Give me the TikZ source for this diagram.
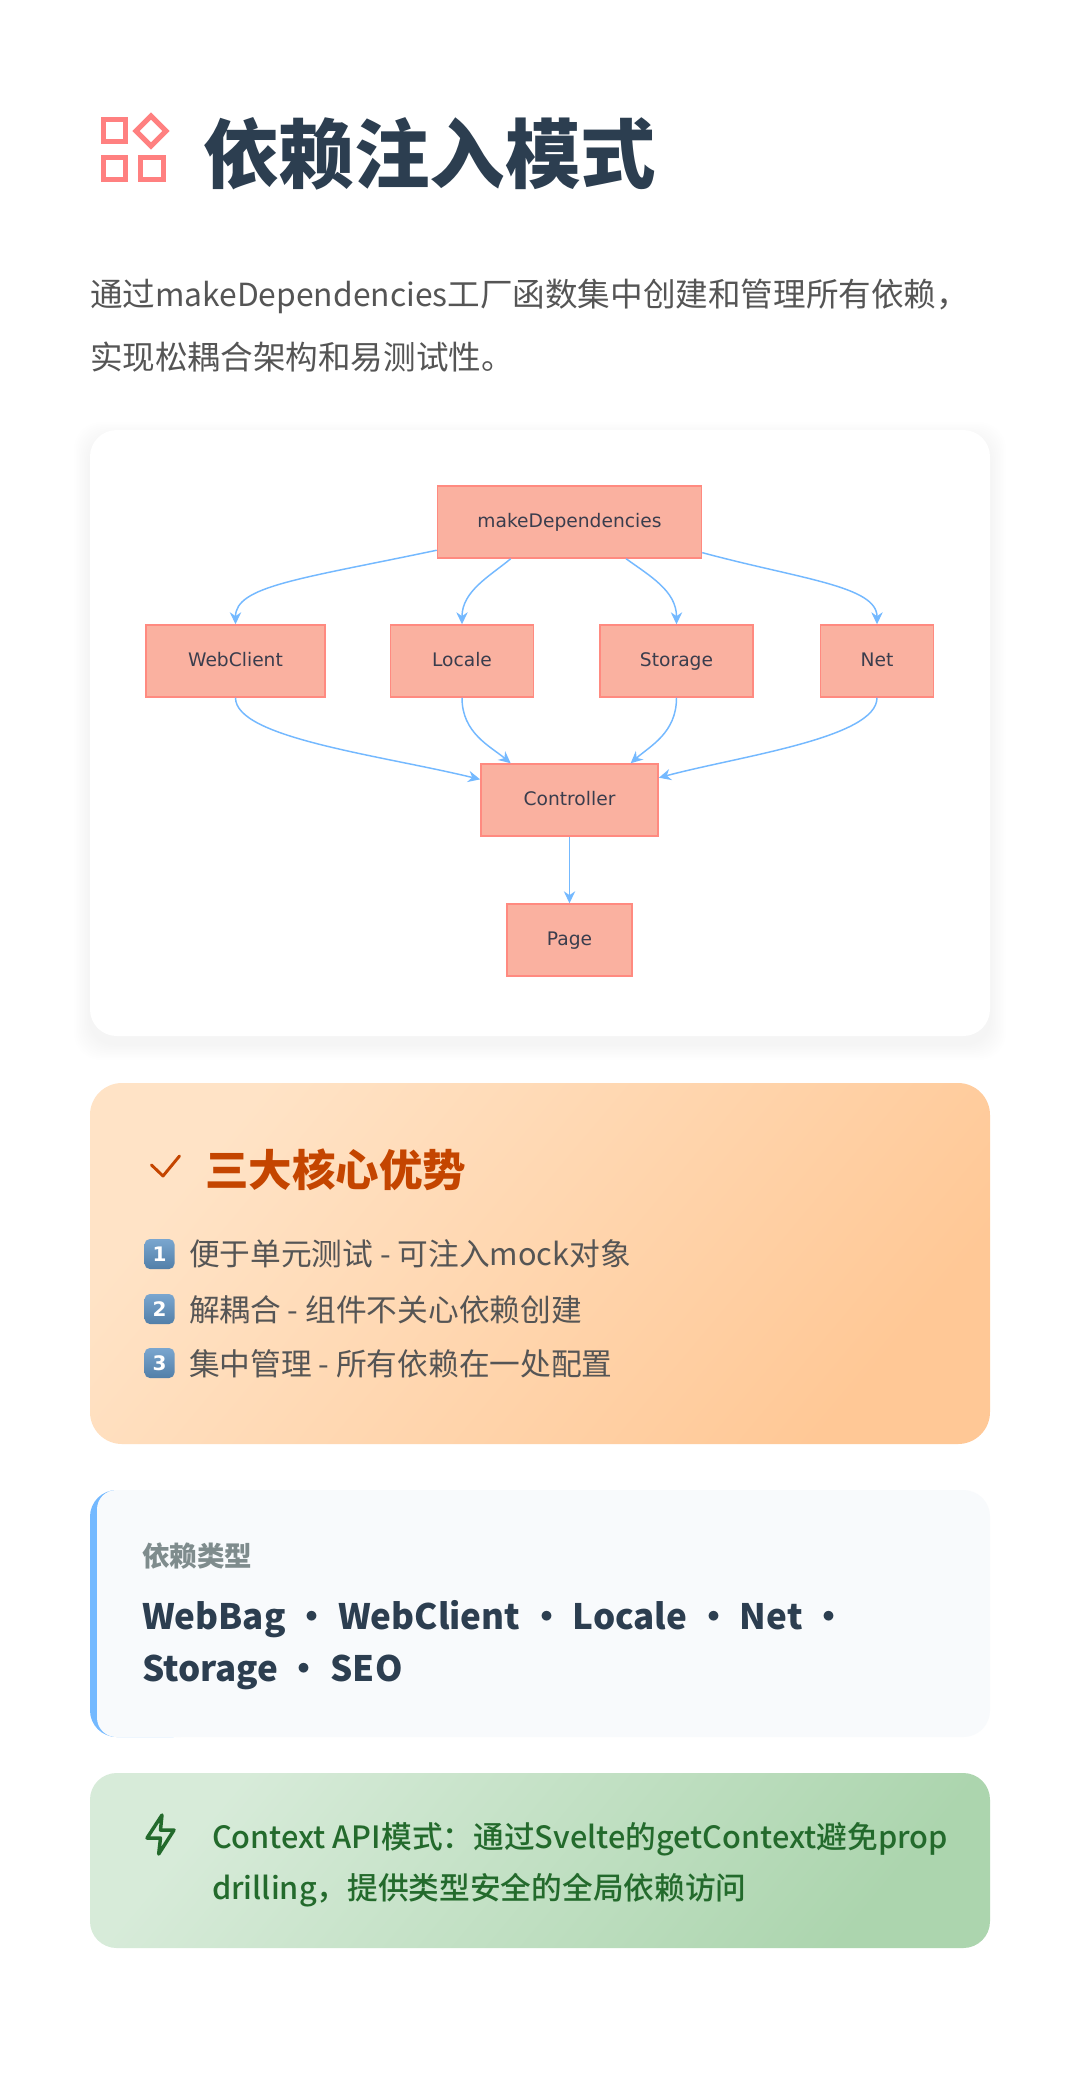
\documentclass[tikz,border=0pt]{standalone}
\usepackage{fontspec}
\usetikzlibrary{arrows.meta}
\setmainfont{Noto Sans CJK SC}
\newfontfamily\blackfont{Noto Sans CJK SC Black}
\newfontfamily\mediumfont{Noto Sans CJK SC Medium}
\newfontfamily\flowfont{DejaVu Sans}
\newcommand{\pxsize}[1]{\fontsize{\the\dimexpr#1pt*3/4\relax}{#1pt}\selectfont}
\newcommand{\kinddot}{\hspace{0.5pt}・\hspace{0.5pt}}
\definecolor{titleink}{HTML}{2C3E50}
\definecolor{bodyink}{HTML}{555555}
\definecolor{iconred}{HTML}{FF8080}
\definecolor{boxfill}{HTML}{FAB1A0}
\definecolor{boxline}{HTML}{FF8A80}
\definecolor{flowline}{HTML}{74B9FF}
\definecolor{flowink}{HTML}{3A3D4D}
\definecolor{orangeink}{HTML}{C44500}
\definecolor{greenink}{HTML}{236A2C}
\definecolor{softgrey}{HTML}{F8FAFC}
\definecolor{labelgrey}{HTML}{7F8C8D}
\definecolor{keytop}{HTML}{7AA6CF}
\definecolor{keybot}{HTML}{527FA8}
\definecolor{orangea}{HTML}{FFE3C6}
\definecolor{orangeb}{HTML}{FFC896}
\definecolor{greena}{HTML}{D7EBD9}
\definecolor{greenb}{HTML}{ACD5AE}
\tikzset{
  txt/.style={anchor=base west,inner sep=0pt,outer sep=0pt},
  flowbox/.style={draw=boxline,fill=boxfill,line width=1.1pt,minimum height=54pt,
    inner sep=0pt,text=flowink,text height=0.9em,text depth=0.12em,
    font=\flowfont\fontsize{14}{17}\selectfont},
  flowarrow/.style={draw=flowline,line width=1.1pt,-{Stealth[length=9pt,width=8.5pt]}},
  keycap/.style={rounded corners=4pt,top color=keytop,bottom color=keybot},
  keytext/.style={text=white,inner sep=0pt,font=\flowfont\bfseries\fontsize{15}{15}\selectfont},
}
\begin{document}
\begin{tikzpicture}[x=0.75pt,y=-0.75pt]
\useasboundingbox (0,0) rectangle (1080,2075);
\fill[white] (0,0) rectangle (1080,2075);

% heading
\draw[iconred,line width=3.8pt] (103.5,119.5) rectangle (125.5,141.5);
\draw[iconred,line width=3.8pt] (151,116) -- (166,131) -- (151,146) -- (136,131) -- cycle;
\draw[iconred,line width=3.8pt] (103.5,157.5) rectangle (125.5,179.5);
\draw[iconred,line width=3.8pt] (140.5,157.5) rectangle (163.5,179.5);
\node[txt,text=titleink,font=\blackfont\pxsize{75.5}] (heading) at (203,182) {依赖注入模式};
\node[txt,text=bodyink,font=\pxsize{32.6}] (introa) at (90,306) {通过{\pxsize{31.8}makeDependencies}工厂函数集中创建和管理所有依赖，};
\node[txt,text=bodyink,font=\pxsize{32.6}] (introb) at (90,369) {实现松耦合架构和易测试性。};

% white card
\foreach \g in {1,...,10}
  \fill[black,opacity=0.004,rounded corners=20pt] (90-\g*1.6,430+8-\g*1.6) rectangle (990+\g*1.6,1036+8+\g*1.6);
\fill[white,rounded corners=20pt] (90,430) rectangle (990,1036);

\node[flowbox,minimum width=198pt] (make) at (569.5,522) {makeDependencies};
\node[flowbox,minimum width=134pt] (web) at (235.5,661) {WebClient};
\node[flowbox,minimum width=107pt] (locale) at (462,661) {Locale};
\node[flowbox,minimum width=115pt] (storage) at (676.5,661) {Storage};
\node[flowbox,minimum width=85pt] (net) at (877,661) {Net};
\node[flowbox,minimum width=133pt] (ctrl) at (569.5,800) {Controller};
\node[flowbox,minimum width=94pt] (page) at (569.5,940) {Page};

\draw[flowarrow] (make.192) .. controls (300,579) and (235.5,586) .. (web.north);
\draw[flowarrow] (make.212) .. controls (490,576) and (462,591) .. (locale.north);
\draw[flowarrow] (make.327) .. controls (650,576) and (676.5,591) .. (storage.north);
\draw[flowarrow] (make.347) .. controls (800,579) and (877,586) .. (net.north);
\draw[flowarrow] (web.south) .. controls (235.5,738) and (380,755) .. (ctrl.167);
\draw[flowarrow] (locale.south) .. controls (462,733) and (490,746) .. (ctrl.148);
\draw[flowarrow] (storage.south) .. controls (676.5,733) and (650,746) .. (ctrl.31);
\draw[flowarrow] (net.south) .. controls (877,738) and (740,756) .. (ctrl.14);
\draw[flowarrow] (ctrl) -- (page);

% orange card
\shade[rounded corners=24pt,top color=orangea,bottom color=orangeb,shading angle=50] (90,1083) rectangle (990,1444);
\draw[orangeink,line width=2.2pt,line cap=round,line join=round] (151.5,1165) -- (163,1176) -- (179.5,1156);
\node[txt,text=orangeink,font=\blackfont\pxsize{43.5}] (benefit) at (205,1186) {三大核心优势};

\shade[keycap] (144.5,1239) rectangle (174.5,1269);
\node[keytext] (keya) at (159.5,1254) {1};
\node[txt,text=bodyink,font=\pxsize{30.7}] (benefita) at (189,1265) {便于单元测试 - 可注入mock对象};
\shade[keycap] (144.5,1294) rectangle (174.5,1324);
\node[keytext] (keyb) at (159.5,1309) {2};
\node[txt,text=bodyink,font=\pxsize{30.7}] (benefitb) at (189,1321) {解耦合 - 组件不关心依赖创建};
\shade[keycap] (144.5,1348) rectangle (174.5,1378);
\node[keytext] (keyc) at (159.5,1363) {3};
\node[txt,text=bodyink,font=\pxsize{30.7}] (benefitc) at (189,1375) {集中管理 - 所有依赖在一处配置};

% grey card
\fill[flowline,rounded corners=20pt] (90,1490) rectangle (200,1737);
\fill[softgrey,rounded corners=14.5pt] (97,1490) rectangle (200,1737);
\fill[softgrey,rounded corners=20pt] (150,1490) rectangle (990,1737);
\node[txt,text=labelgrey,font=\bfseries\pxsize{27.5}] (kindlabel) at (142,1566) {依赖类型};
\node[txt,text=titleink,font=\bfseries\pxsize{35}] (kinda) at (142,1629) {WebBag \kinddot{} WebClient \kinddot{} Locale \kinddot{} Net \kinddot{}};
\node[txt,text=titleink,font=\bfseries\pxsize{35}] (kindb) at (142,1681) {Storage \kinddot{} SEO};

% green card
\shade[rounded corners=20pt,top color=greena,bottom color=greenb,shading angle=50] (90,1773) rectangle (990,1948);
\draw[greenink,line width=2.6pt,line join=round] (162,1815) -- (147,1838) -- (160.5,1838) -- (158.7,1854) -- (174,1830) -- (160.5,1830) -- cycle;
\node[txt,text=greenink,font=\mediumfont\pxsize{30.7}] (notea) at (212,1848) {Context API模式：通过Svelte的getContext避免prop};
\node[txt,text=greenink,font=\mediumfont\pxsize{30.7}] (noteb) at (212,1899) {drilling，提供类型安全的全局依赖访问};
\end{tikzpicture}
\end{document}
